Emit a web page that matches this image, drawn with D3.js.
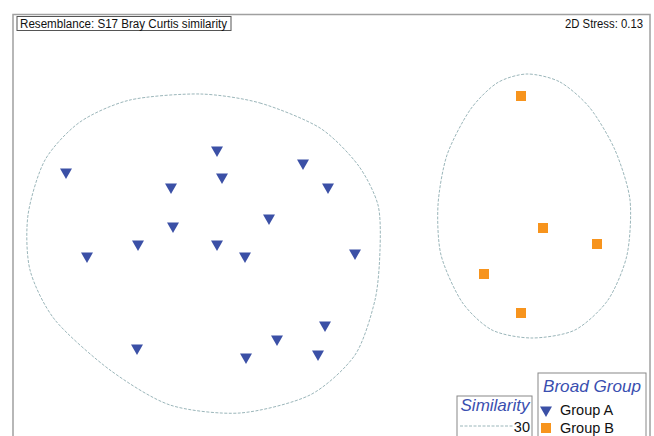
<!DOCTYPE html>
<html>
<head>
<meta charset="utf-8">
<script src="https://cdn.jsdelivr.net/npm/d3@7"></script>
<style>
  html, body { margin: 0; padding: 0; background: #fff; }
  svg { display: block; font-family: "Liberation Sans", Arial, sans-serif; }
</style>
</head>
<body>
<div id="chart"></div>
<script>
// nMDS ordination coordinates (arbitrary MDS units)
const groupA = [
  [-2.64, 0.53], [-1.13, 0.75], [-1.59, 0.38], [-1.08, 0.48], [-0.27, 0.62],
  [-0.02, 0.38], [-0.61, 0.07], [-1.57, -0.01], [-1.92, -0.19], [-2.43, -0.31],
  [-1.13, -0.19], [-0.85, -0.31], [0.25, -0.28], [-0.05, -1.00], [-0.53, -1.14],
  [-1.93, -1.23], [-0.84, -1.32], [-0.12, -1.29]
]
const groupB = [
  [1.91, 1.29], [2.13, -0.03], [2.67, -0.19], [1.54, -0.49], [1.91, -0.88]
]

// 30% similarity contours
const contourA = [
  [-1.30, 1.31], [-0.70, 1.22], [-0.10, 0.97], [0.28, 0.60], [0.48, 0.20],
  [0.50, -0.25], [0.45, -0.75], [0.25, -1.30], [-0.20, -1.70], [-0.90, -1.88],
  [-1.60, -1.80], [-2.20, -1.45], [-2.75, -0.95], [-3.00, -0.45], [-3.02, 0.10],
  [-2.85, 0.65], [-2.50, 1.03], [-2.00, 1.25]
]
const contourB = [
  [1.97, 1.51], [2.30, 1.43], [2.60, 1.17], [2.85, 0.75], [3.00, 0.25],
  [2.97, -0.30], [2.78, -0.75], [2.45, -1.05], [2.02, -1.13], [1.62, -1.05],
  [1.32, -0.77], [1.11, -0.30], [1.08, 0.20], [1.17, 0.70], [1.40, 1.15],
  [1.67, 1.42]
]

const stress = 0.13
const similarityLevel = 30
const legendGroups = ["Group A", "Group B"]

const W = 654, H = 436
const blue = "#3b50a6", orange = "#f7941d", contourColor = "#9bb6ba"

const x = d3.scaleLinear().domain([-3.2, 3.2]).range([10, 650])
const y = d3.scaleLinear().domain([2.25, -2.25]).range([0, 450])

const svg = d3.select("#chart").append("svg")
  .attr("width", W).attr("height", H)

// outer frame
svg.append("rect")
  .attr("x", 13).attr("y", 14.5).attr("width", 637).attr("height", 440)
  .attr("fill", "none").attr("stroke", "#a0a0a0").attr("stroke-width", 1.5)

// contours
const line = d3.line().x(d => x(d[0])).y(d => y(d[1])).curve(d3.curveCardinalClosed.tension(0.2))
;[contourA, contourB].forEach(c => {
  svg.append("path")
    .attr("d", line(c))
    .attr("fill", "none")
    .attr("stroke", contourColor)
    .attr("stroke-width", 1)
    .attr("stroke-dasharray", "3,1.5")
})

// points
const tri = d3.symbol().type(d3.symbolTriangle).size(62)
svg.append("g").selectAll("path").data(groupA).join("path")
  .attr("d", tri)
  .attr("transform", d => `translate(${x(d[0])},${y(d[1])}) rotate(180)`)
  .attr("fill", blue)

svg.append("g").selectAll("rect").data(groupB).join("rect")
  .attr("x", d => x(d[0]) - 5).attr("y", d => y(d[1]) - 5)
  .attr("width", 10).attr("height", 10)
  .attr("fill", orange)

// title box
svg.append("rect")
  .attr("x", 17).attr("y", 16.5).attr("width", 214).attr("height", 14)
  .attr("fill", "#fff").attr("stroke", "#555").attr("stroke-width", 1)
svg.append("text")
  .attr("x", 20).attr("y", 28)
  .attr("font-size", "12.5px").attr("fill", "#111")
  .attr("textLength", 207).attr("lengthAdjust", "spacingAndGlyphs")
  .text("Resemblance: S17 Bray Curtis similarity")

svg.append("text")
  .attr("x", 643).attr("y", 28).attr("text-anchor", "end")
  .attr("font-size", "12.5px").attr("fill", "#111")
  .attr("textLength", 78).attr("lengthAdjust", "spacingAndGlyphs")
  .text(`2D Stress: ${stress}`)

// similarity legend
const sl = svg.append("g")
sl.append("rect")
  .attr("x", 457).attr("y", 396).attr("width", 75).attr("height", 44)
  .attr("fill", "#fff").attr("stroke", "#888").attr("stroke-width", 1)
sl.append("text")
  .attr("x", 495).attr("y", 411).attr("text-anchor", "middle")
  .attr("font-size", "17px").attr("font-style", "italic").attr("fill", "#3a4fb0")
  .text("Similarity")
sl.append("line")
  .attr("x1", 460).attr("x2", 514).attr("y1", 426).attr("y2", 426)
  .attr("stroke", contourColor).attr("stroke-dasharray", "3,1.5")
sl.append("text")
  .attr("x", 530).attr("y", 432).attr("text-anchor", "end")
  .attr("font-size", "14.5px").attr("fill", "#111")
  .text(similarityLevel)

// group legend
const gl = svg.append("g")
gl.append("rect")
  .attr("x", 538).attr("y", 373).attr("width", 108).attr("height", 67)
  .attr("fill", "#fff").attr("stroke", "#888").attr("stroke-width", 1)
gl.append("text")
  .attr("x", 592).attr("y", 392).attr("text-anchor", "middle")
  .attr("font-size", "17px").attr("font-style", "italic").attr("fill", "#3a4fb0")
  .attr("textLength", 98).attr("lengthAdjust", "spacingAndGlyphs")
  .text("Broad Group")
legendGroups.forEach((g, i) => {
  const cy = 410 + i * 18
  if (i === 0) {
    gl.append("path").attr("d", tri)
      .attr("transform", `translate(546,${cy}) rotate(180)`).attr("fill", blue)
  } else {
    gl.append("rect").attr("x", 541).attr("y", cy - 5).attr("width", 10).attr("height", 10)
      .attr("fill", orange)
  }
  gl.append("text")
    .attr("x", 560).attr("y", cy + 5)
    .attr("font-size", "14.5px").attr("fill", "#111")
    .text(g)
})
</script>
</body>
</html>
